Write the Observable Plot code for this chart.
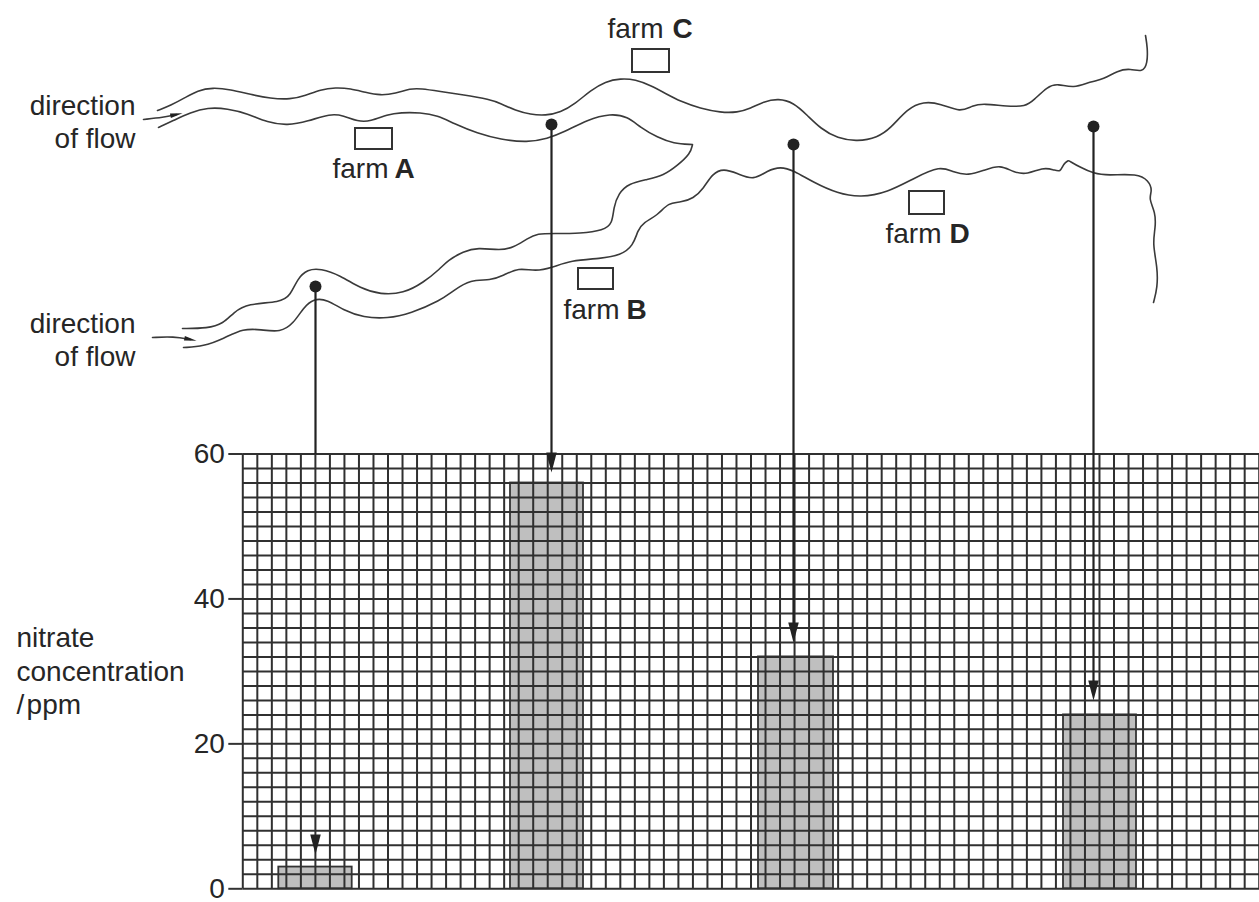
<!DOCTYPE html>
<html>
<head>
<meta charset="utf-8">
<script src="https://cdn.jsdelivr.net/npm/d3@7"></script>
<script src="https://cdn.jsdelivr.net/npm/@observablehq/plot@0.6"></script>
<style>
html,body{margin:0;padding:0;background:#fff;overflow:hidden}
svg{display:block}
</style>
</head>
<body>
<div id="chart"></div>
<script>
// Bar chart values
const sites = ["site 1", "site 2", "site 3", "site 4"];
const nitratePpm = [3, 56, 32, 24];
const barFrom = [278.3, 510, 758, 1063];
const barTo = [351.7, 583, 833, 1136];
const yTicks = [0, 20, 40, 60];

// Sampling points: map column, map row of the dot, map row of the arrow tip
const sampleCol = [315, 551, 793, 1093];
const sampleRow = [286, 124, 144, 126];
const stemEndRow = [454, 460, 630, 688];
const arrowTipRow = [852, 470, 640, 698];

// River banks: [column, row]
const bankNorth = [[157,110],[170,105],[185,97],[197,90],[212,87],[230,89],[250,94],[270,98],[290,99],[305,95],[320,89],[335,87],[350,88],[365,92],[380,95],[395,93],[410,88],[420,88],[440,91],[460,94],[490,99],[500,103],[515,110],[530,114],[545,115],[560,112],[575,103],[590,90],[605,81],[620,78],[635,79],[650,85],[665,93],[680,101],[700,108],[720,112],[737,112],[750,108],[763,101],[778,98],[793,102],[807,115],[820,128],[837,138],[857,141],[877,137],[890,128],[907,108],[923,101],[940,103],[960,112],[972,105],[983,103],[1007,106],[1025,106],[1033,100],[1047,86],[1057,83],[1073,88],[1090,81],[1103,79],[1117,70],[1130,68],[1142,72],[1147,63],[1147,47],[1145,35]];
const bankMiddle = [[158,127],[173,120],[190,112],[207,107],[227,108],[247,113],[267,122],[287,125],[307,121],[330,113],[343,115],[357,121],[370,121],[387,114],[400,112],[420,112],[437,115],[453,123],[477,133],[500,139],[527,142],[547,138],[563,132],[587,119],[610,113],[627,116],[640,127],[657,137],[673,143],[692,144],[692,144],[692,144],[690,153],[677,165],[663,175],[647,179],[628,183],[618,193],[613,207],[612,223],[603,230],[580,233],[553,233],[537,233],[527,238],[513,247],[500,250],[477,247],[463,251],[447,260],[440,268],[423,282],[403,293],[380,294],[360,288],[340,275],[320,268],[307,269],[297,278],[290,295],[280,302],[247,303],[233,312],[223,323],[207,328],[182,328]];
const bankSouth = [[183,347],[203,346],[223,338],[243,328],[260,329],[280,332],[293,323],[303,307],[313,298],[327,299],[343,310],[363,317],[387,318],[410,313],[440,300],[453,290],[470,279],[490,280],[503,275],[518,267],[535,271],[552,267],[570,260],[600,258],[620,255],[633,245],[637,230],[643,222],[657,215],[668,202],[680,202],[693,198],[703,188],[712,173],[723,168],[737,173],[753,180],[767,170],[780,166],[793,170],[813,182],[837,193],[860,197],[887,192],[913,178],[940,165],[953,172],[968,175],[983,170],[1000,164],[1013,172],[1027,174],[1042,167],[1053,169],[1060,172],[1063,163],[1068,160],[1068,160],[1080,167],[1093,173],[1107,175],[1137,173],[1148,180],[1152,190],[1148,198],[1155,212],[1155,227],[1152,243],[1157,267],[1157,287],[1153,302]];
const flowNorth = [[143,119],[163,117],[176,114]];
const flowSouth = [[152,337],[173,336],[190,339]];

// Farms
const farmNames = ["A", "B", "C", "D"];
const farmLeft = [355, 578, 632, 909];
const farmRight = [392, 613, 669, 944];
const farmTop = [128, 268, 49, 191];
const farmBottom = [149, 289, 72, 214];
const farmWordCol = [332, 563, 607, 885];
const farmLetterCol = [394, 626, 672, 949];
const farmTextRow = [177, 318, 37, 242];

// Grid
const gridStartCol = 242.3;
const gridStepCol = 14.52;
const gridCols = d3.range(0, 71).map(k => gridStartCol + k * gridStepCol);
const gridPpm = d3.range(0, 61, 2);

// The map shares the chart's vertical scale: one ppm spans 7.2467 map rows.
const ppmOfRow = row => (888.3 - row) / 7.2467;

const ink = "#262626";
const fontSize = 28;

const bars = sites.map((s, i) => ({s, v: nitratePpm[i], a: barFrom[i], b: barTo[i]}));
const samples = sites.map((s, i) => ({x: sampleCol[i], y1: ppmOfRow(sampleRow[i]), y2: ppmOfRow(stemEndRow[i]), tip: ppmOfRow(arrowTipRow[i] - 8)}));
const farms = farmNames.map((n, i) => ({
  n, x1: farmLeft[i], x2: farmRight[i],
  y1: ppmOfRow(farmBottom[i]), y2: ppmOfRow(farmTop[i]),
  wx: farmWordCol[i], lx: farmLetterCol[i], ty: ppmOfRow(farmTextRow[i])
}));
const mapLabels = [
  {t: "direction", x: 135, r: 114}, {t: "of flow", x: 135, r: 147},
  {t: "direction", x: 135, r: 332}, {t: "of flow", x: 135, r: 365}
];
const axisTitle = [
  {t: "nitrate", r: 646}, {t: "concentration", r: 680}, {t: "/\u200appm", r: 713}
];

const bankLine = pts => Plot.line(pts, {
  x: d => d[0], y: d => ppmOfRow(d[1]), curve: "basis",
  stroke: "#3a3a3a", strokeWidth: 1.6
});

// Long thin arrow head pointing downwards
const arrowHead = {
  draw(ctx, size) {
    const w = Math.sqrt(size) * 0.33, h = Math.sqrt(size) * 0.62;
    ctx.moveTo(-w, -h); ctx.lineTo(w, -h); ctx.lineTo(0, h); ctx.closePath();
  }
};
const flowHead = {
  draw(ctx, size) {
    const w = Math.sqrt(size) * 0.7, h = Math.sqrt(size) * 0.25;
    ctx.moveTo(-w, -h); ctx.lineTo(w, 0); ctx.lineTo(-w, h); ctx.closePath();
  }
};

const chart = Plot.plot({
  width: 1259,
  height: 902,
  marginLeft: gridStartCol,
  marginRight: 0,
  marginTop: 0,
  marginBottom: 0,
  style: {fontFamily: "'Liberation Sans', Arial, sans-serif", background: "#fff", overflow: "visible"},
  x: {domain: [gridStartCol, 1259], axis: null},
  y: {domain: [ppmOfRow(902), ppmOfRow(0)], axis: null},
  marks: [
    Plot.rectY(bars, {x1: "a", x2: "b", y1: 0, y2: "v", fill: "#bfbfbf", stroke: "#333", strokeWidth: 1.8}),
    Plot.ruleY(gridPpm, {x1: gridStartCol, x2: 1259, stroke: "#303030", strokeWidth: 2}),
    Plot.ruleX(gridCols, {y1: 0, y2: 60, stroke: "#303030", strokeWidth: 2}),
    Plot.axisY({
      ticks: yTicks, tickSize: 14, tickPadding: 4, label: null, fontSize,
      stroke: "#333", strokeWidth: 2, fill: ink, tickFormat: d => String(d)
    }),
    bankLine(bankNorth),
    bankLine(bankMiddle),
    bankLine(bankSouth),
    bankLine(flowNorth),
    bankLine(flowSouth),
    Plot.dot([flowNorth[2]], {x: d => d[0], y: d => ppmOfRow(d[1]), symbol: flowHead, r: 5, fill: "#222", stroke: "none", rotate: -12}),
    Plot.dot([flowSouth[2]], {x: d => d[0], y: d => ppmOfRow(d[1]), symbol: flowHead, r: 5, fill: "#222", stroke: "none", rotate: 12}),
    Plot.rect(farms, {x1: "x1", x2: "x2", y1: "y1", y2: "y2", fill: "#fff", stroke: "#333", strokeWidth: 2}),
    Plot.ruleX(samples, {x: "x", y1: "y1", y2: "y2", stroke: "#222", strokeWidth: 2.2}),
    Plot.dot(samples, {x: "x", y: "y1", r: 6, fill: "#222", stroke: "none"}),
    Plot.dot(samples, {x: "x", y: "tip", symbol: arrowHead, r: 9, fill: "#222", stroke: "none"}),
    Plot.text(farms, {x: "wx", y: "ty", text: () => "farm", textAnchor: "start", lineAnchor: "bottom", fontSize, fill: ink}),
    Plot.text(farms, {x: "lx", y: "ty", text: "n", textAnchor: "start", lineAnchor: "bottom", fontSize, fontWeight: "bold", fill: ink}),
    Plot.text(mapLabels, {x: "x", y: d => ppmOfRow(d.r), text: "t", textAnchor: "end", lineAnchor: "bottom", fontSize, fill: ink}),
    Plot.text(axisTitle, {x: () => 16, y: d => ppmOfRow(d.r), text: "t", textAnchor: "start", lineAnchor: "bottom", fontSize, fill: ink})
  ]
});
document.getElementById("chart").append(chart);
</script>
</body>
</html>
